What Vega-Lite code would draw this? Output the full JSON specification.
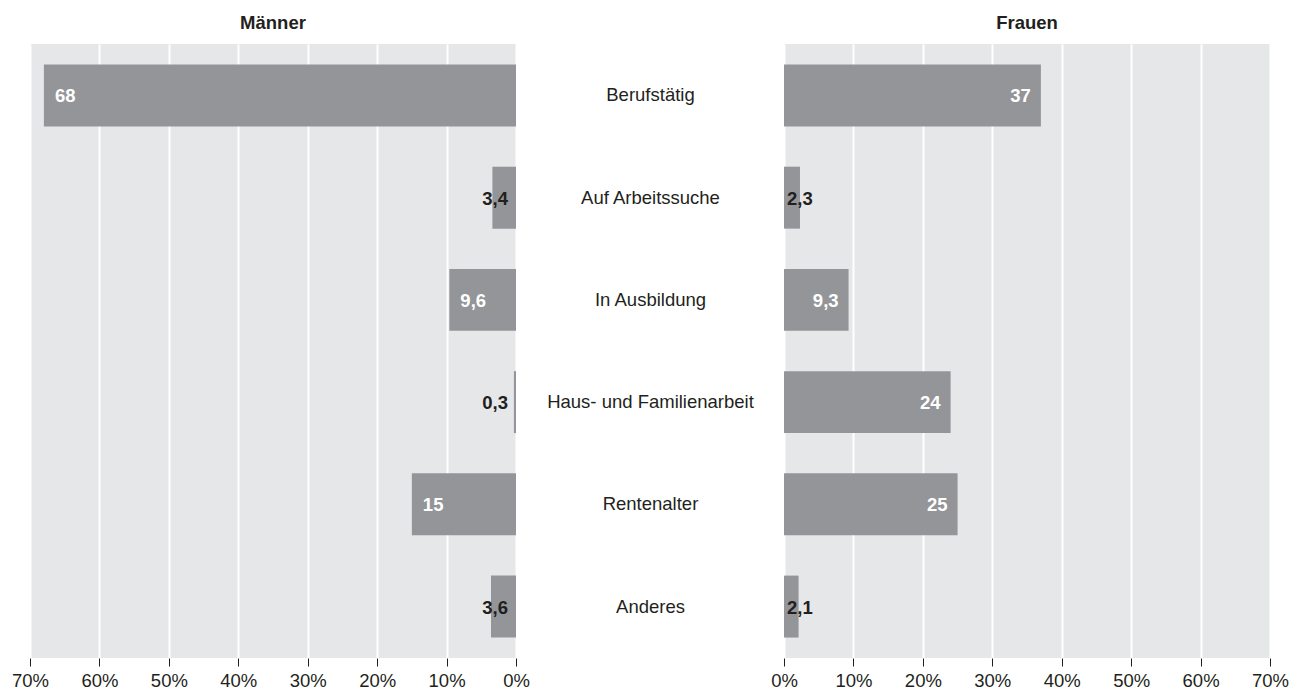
{
  "$schema": "https://vega.github.io/schema/vega-lite/v6.json",
  "padding": {"left": 11, "top": 13, "right": 12, "bottom": 4},
  "background": "white",
  "bounds": "flush",
  "spacing": 268,
  "config": {
    "font": "Liberation Sans",
    "locale": {"number": {"decimal": ",", "thousands": ".", "grouping": [3], "currency": ["", " €"]}},
    "view": {"fill": "#e6e7e8", "stroke": null},
    "title": {"fontSize": 18.5, "fontWeight": "bold", "color": "#231f20", "anchor": "middle", "offset": 12}
  },
  "data": {
    "values": [
      {"kategorie": "Berufstätig", "gruppe": "Männer", "anteil": 68},
      {"kategorie": "Auf Arbeitssuche", "gruppe": "Männer", "anteil": 3.4},
      {"kategorie": "In Ausbildung", "gruppe": "Männer", "anteil": 9.6},
      {"kategorie": "Haus- und Familienarbeit", "gruppe": "Männer", "anteil": 0.3},
      {"kategorie": "Rentenalter", "gruppe": "Männer", "anteil": 15},
      {"kategorie": "Anderes", "gruppe": "Männer", "anteil": 3.6},
      {"kategorie": "Berufstätig", "gruppe": "Frauen", "anteil": 37},
      {"kategorie": "Auf Arbeitssuche", "gruppe": "Frauen", "anteil": 2.3},
      {"kategorie": "In Ausbildung", "gruppe": "Frauen", "anteil": 9.3},
      {"kategorie": "Haus- und Familienarbeit", "gruppe": "Frauen", "anteil": 24},
      {"kategorie": "Rentenalter", "gruppe": "Frauen", "anteil": 25},
      {"kategorie": "Anderes", "gruppe": "Frauen", "anteil": 2.1}
    ]
  },
  "hconcat": [
    {
      "title": "Männer",
      "width": 486,
      "height": 614,
      "transform": [{"filter": "datum.gruppe === 'Männer'"}],
      "encoding": {
        "y": {
          "field": "kategorie", "type": "nominal", "sort": null, "axis": null,
          "scale": {"paddingInner": 0.394, "paddingOuter": 0.2}
        }
      },
      "layer": [
        {
          "mark": {"type": "bar", "color": "#939598"},
          "encoding": {
            "x": {
              "field": "anteil", "type": "quantitative",
              "scale": {"domain": [0, 70], "reverse": true, "nice": false},
              "axis": {
                "title": null, "domain": false, "grid": true, "gridColor": "#ffffff", "gridWidth": 2,
                "ticks": true, "tickColor": "#231f20", "tickSize": 8, "tickWidth": 1,
                "labelFontSize": 18.5, "labelColor": "#231f20", "labelPadding": 5,
                "labelFlush": false, "labelOverlap": false,
                "values": [0, 10, 20, 30, 40, 50, 60, 70],
                "labelExpr": "datum.value + '%'"
              }
            }
          }
        },
        {
          "transform": [{"filter": "datum.anteil >= 5"}],
          "mark": {"type": "text", "align": "left", "baseline": "middle", "dx": 11, "dy": 1, "fontSize": 18.5, "fontWeight": "bold", "color": "#ffffff"},
          "encoding": {
            "x": {"field": "anteil", "type": "quantitative"},
            "text": {"field": "anteil", "type": "quantitative", "format": "~g"}
          }
        },
        {
          "transform": [{"filter": "datum.anteil < 5"}],
          "mark": {"type": "text", "align": "right", "baseline": "middle", "dx": -8, "dy": 1, "fontSize": 18.5, "fontWeight": "bold", "color": "#231f20"},
          "encoding": {
            "x": {"datum": 0, "type": "quantitative"},
            "text": {"field": "anteil", "type": "quantitative", "format": "~g"}
          }
        }
      ]
    },
    {
      "title": "Frauen",
      "width": 486,
      "height": 614,
      "transform": [{"filter": "datum.gruppe === 'Frauen'"}],
      "encoding": {
        "y": {
          "field": "kategorie", "type": "nominal", "sort": null,
          "scale": {"paddingInner": 0.394, "paddingOuter": 0.2},
          "axis": {
            "orient": "left", "title": null, "domain": false, "ticks": false, "grid": false,
            "labelAlign": "center", "labelBaseline": "middle", "labelPadding": 134,
            "labelFontSize": 18.5, "labelColor": "#231f20", "labelLimit": 0
          }
        }
      },
      "layer": [
        {
          "mark": {"type": "bar", "color": "#939598"},
          "encoding": {
            "x": {
              "field": "anteil", "type": "quantitative",
              "scale": {"domain": [0, 70], "nice": false},
              "axis": {
                "title": null, "domain": false, "grid": true, "gridColor": "#ffffff", "gridWidth": 2,
                "ticks": true, "tickColor": "#231f20", "tickSize": 8, "tickWidth": 1,
                "labelFontSize": 18.5, "labelColor": "#231f20", "labelPadding": 5,
                "labelFlush": false, "labelOverlap": false,
                "values": [0, 10, 20, 30, 40, 50, 60, 70],
                "labelExpr": "datum.value + '%'"
              }
            }
          }
        },
        {
          "transform": [{"filter": "datum.anteil >= 5"}],
          "mark": {"type": "text", "align": "right", "baseline": "middle", "dx": -10, "dy": 1, "fontSize": 18.5, "fontWeight": "bold", "color": "#ffffff"},
          "encoding": {
            "x": {"field": "anteil", "type": "quantitative"},
            "text": {"field": "anteil", "type": "quantitative", "format": "~g"}
          }
        },
        {
          "transform": [{"filter": "datum.anteil < 5"}],
          "mark": {"type": "text", "align": "left", "baseline": "middle", "dx": 3, "dy": 1, "fontSize": 18.5, "fontWeight": "bold", "color": "#231f20"},
          "encoding": {
            "x": {"datum": 0, "type": "quantitative"},
            "text": {"field": "anteil", "type": "quantitative", "format": "~g"}
          }
        }
      ]
    }
  ]
}
